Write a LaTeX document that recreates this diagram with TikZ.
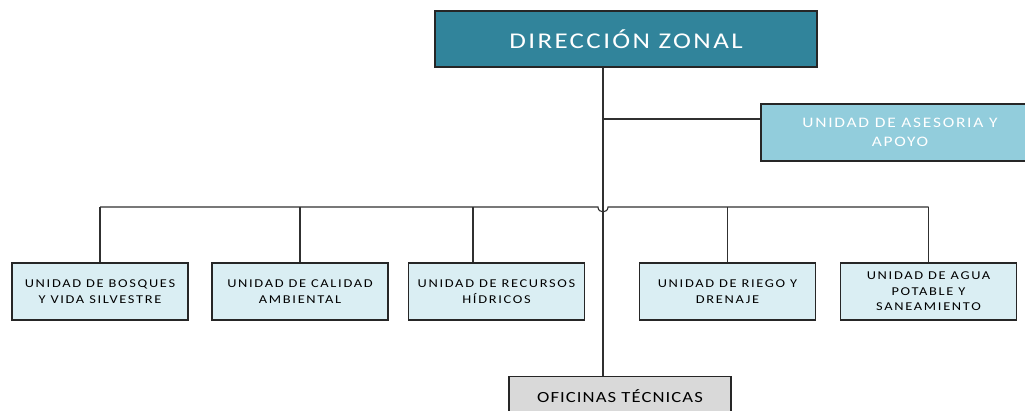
\documentclass[tikz,border=0pt]{standalone}
\usepackage{fontspec}
\setmainfont{Carlito}
\newfontfamily\topfont[LetterSpace=10.5,FakeStretch=1.2]{Carlito}
\newfontfamily\sidefont[LetterSpace=12,FakeStretch=1.2]{Carlito}
\newfontfamily\unitfont[LetterSpace=14,FakeStretch=1.2]{Carlito}
\newfontfamily\officefont[LetterSpace=7,FakeStretch=1.2]{Carlito}
\definecolor{teal1}{HTML}{31849B}
\definecolor{blue2}{HTML}{92CDDC}
\definecolor{blue3}{HTML}{DAEEF3}
\definecolor{grey4}{HTML}{D9D9D9}
\definecolor{edge}{HTML}{262626}
\definecolor{wire}{HTML}{303030}
\tikzset{
  box/.style={draw=edge, line width=1.1pt, inner sep=0pt, align=center, anchor=center},
  topbox/.style={box, fill=teal1, text=white, minimum width=382pt, minimum height=56pt,
     font=\topfont\fontsize{22.5}{26}\selectfont},
  sidebox/.style={box, fill=blue2, text=white, minimum width=278pt, minimum height=57pt,
     font=\sidefont\fontsize{14.5}{19}\selectfont},
  unitbox/.style={box, fill=blue3, text=black, minimum width=176pt, minimum height=57pt,
     font=\unitfont\fontsize{12}{15.5}\selectfont},
  officebox/.style={box, fill=grey4, text=black, minimum width=222pt, minimum height=40pt,
     font=\officefont\fontsize{15.5}{18}\selectfont},
  wireline/.style={draw=wire, line width=1.1pt}
}
\begin{document}
\begin{tikzpicture}[x=1pt, y=-1pt]
\useasboundingbox (0,0) rectangle (1025,411);
\node[topbox] (dz) at (626,39) {DIRECCIÓN ZONAL};
\node[sidebox] (ase) at (900,132.5) {UNIDAD DE ASESORIA Y\\APOYO};
\node[unitbox] (b1) at (100,291.5) {UNIDAD DE BOSQUES\\Y VIDA SILVESTRE};
\node[unitbox] (b2) at (300,291.5) {UNIDAD DE CALIDAD\\AMBIENTAL};
\node[unitbox] (b3) at (496.5,291.5) {UNIDAD DE RECURSOS\\HÍDRICOS};
\node[unitbox] (b4) at (727.5,291.5) {UNIDAD DE RIEGO Y\\DRENAJE};
\node[unitbox] (b5) at (928.5,291.5) {UNIDAD DE AGUA\\POTABLE Y\\SANEAMIENTO};
\node[officebox] (ofi) at (620,396.5) {OFICINAS TÉCNICAS};
\coordinate (j1) at (603,119);
\coordinate (bus) at (603,207);
\coordinate (hopL) at (598,207);
\coordinate (hopR) at (608,207);
% main vertical
\draw[wireline] (dz.south -| j1) -- (ofi.north -| j1);
% advisory branch
\draw[wireline] (j1) -- (ase.west |- j1);
% bus with hop
\draw[wireline] (b1.north |- bus) -- (hopL) .. controls ([yshift=-6.5pt]hopL) and ([yshift=-6.5pt]hopR) .. (hopR) -- (b5.north |- bus);
% drops
\draw[wireline] (b1.north) -- (b1.north |- bus);
\draw[wireline] (b2.north) -- (b2.north |- bus);
\draw[wireline] ([xshift=-23.5pt]b3.north) -- ([xshift=-23.5pt]b3.north |- bus);
\draw[wireline] (b4.north) -- (b4.north |- bus);
\draw[wireline] (b5.north) -- (b5.north |- bus);
\end{tikzpicture}
\end{document}
